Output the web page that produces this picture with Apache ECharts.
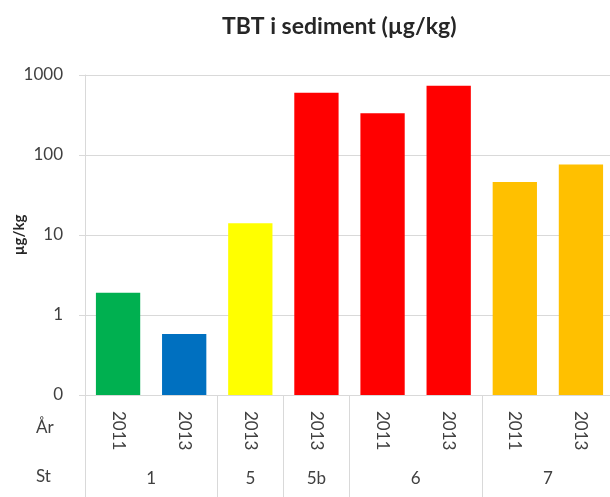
<!DOCTYPE html>
<html>
<head>
<meta charset="utf-8">
<script src="https://cdn.jsdelivr.net/npm/echarts@6/dist/echarts.min.js"></script>
<style>
  html, body { margin: 0; padding: 0; background: #fff; }
  #chart { width: 610px; height: 497px; }
</style>
</head>
<body>
<div id="chart"></div>
<script>
// data
const years = ['2011', '2013', '2013', '2013', '2011', '2013', '2011', '2013']
const tbt = [1.9, 0.58, 14, 600, 332, 735, 46, 76]
const barColors = ['#00b050', '#0070c0', '#ffff00', '#ff0000', '#ff0000', '#ff0000', '#ffc000', '#ffc000']
const stations = ['1', '5', '5b', '6', '7']
const groupSizes = [2, 1, 1, 2, 2]
const yTicks = [0.1, 1, 10, 100, 1000]

// group boundaries and centres on the station row
const bounds = [0]
const centers = []
groupSizes.forEach(n => {
  const start = bounds[bounds.length - 1]
  centers.push(start + n / 2)
  bounds.push(start + n)
})

const font = 'Lato, "Open Sans", sans-serif'
const grey = '#d9d9d9'
const yMin = yTicks[0]

const myChart = echarts.init(document.getElementById('chart'))
myChart.setOption({
  animation: false,
  title: {
    text: 'TBT i sediment (µg/kg)',
    left: 222,
    top: 15,
    padding: 0,
    textStyle: { fontFamily: font, fontSize: 23, fontWeight: 'bold', color: '#262626' }
  },
  grid: { left: 85, top: 75, width: 529, bottom: 102, containLabel: false, outerBoundsMode: 'none' },
  graphic: [
    { type: 'text', left: 36, top: 419, style: { text: 'År', fontFamily: font, fontSize: 17, fill: '#404040' } },
    { type: 'text', left: 36, top: 468, style: { text: 'St', fontFamily: font, fontSize: 17, fill: '#404040' } }
  ],
  xAxis: [{
    type: 'category',
    data: years,
    position: 'bottom',
    axisLine: { show: true, lineStyle: { color: grey, width: 1 } },
    axisTick: { show: false },
    axisLabel: {
      rotate: -90,
      margin: 16,
      fontFamily: font,
      fontSize: 17,
      color: '#404040'
    },
    splitLine: { show: false }
  }, {
    type: 'value',
    min: 0,
    max: bounds[bounds.length - 1],
    position: 'bottom',
    axisLine: { show: false },
    splitLine: { show: false },
    axisTick: {
      show: true,
      customValues: bounds,
      length: 102,
      lineStyle: { color: grey, width: 1 }
    },
    axisLabel: {
      customValues: centers,
      margin: 75,
      fontFamily: font,
      fontSize: 17,
      color: '#404040',
      formatter: v => stations[centers.indexOf(v)]
    }
  }],
  yAxis: {
    type: 'log',
    logBase: 10,
    min: yMin,
    max: yTicks[yTicks.length - 1],
    name: 'µg/kg',
    nameLocation: 'middle',
    nameRotate: 90,
    nameGap: 58,
    nameMoveOverlap: false,
    nameTextStyle: { fontFamily: font, fontSize: 15, fontWeight: 'bold', color: '#262626' },
    axisLine: { show: true, lineStyle: { color: grey, width: 1 } },
    axisTick: { show: true, length: 6, lineStyle: { color: grey } },
    axisLabel: {
      margin: 22,
      fontFamily: font,
      fontSize: 17,
      color: '#404040',
      formatter: v => v < 1 ? '0' : String(Math.round(v))
    },
    splitLine: { show: true, lineStyle: { color: grey, width: 1 } }
  },
  series: [{
    // bars drawn from the bottom of the log axis (0.1) instead of 1
    type: 'custom',
    xAxisIndex: 0,
    encode: { x: 0, y: 1 },
    data: tbt.map((v, i) => [i, v]),
    renderItem: function (params, api) {
      const i = api.value(0)
      const top = api.coord([i, api.value(1)])
      const base = api.coord([i, yMin])
      const w = api.size([1, 0])[0] * 0.67
      return {
        type: 'rect',
        shape: { x: top[0] - w / 2, y: top[1], width: w, height: base[1] - top[1] },
        style: { fill: barColors[i] }
      }
    }
  }]
})
</script>
</body>
</html>
